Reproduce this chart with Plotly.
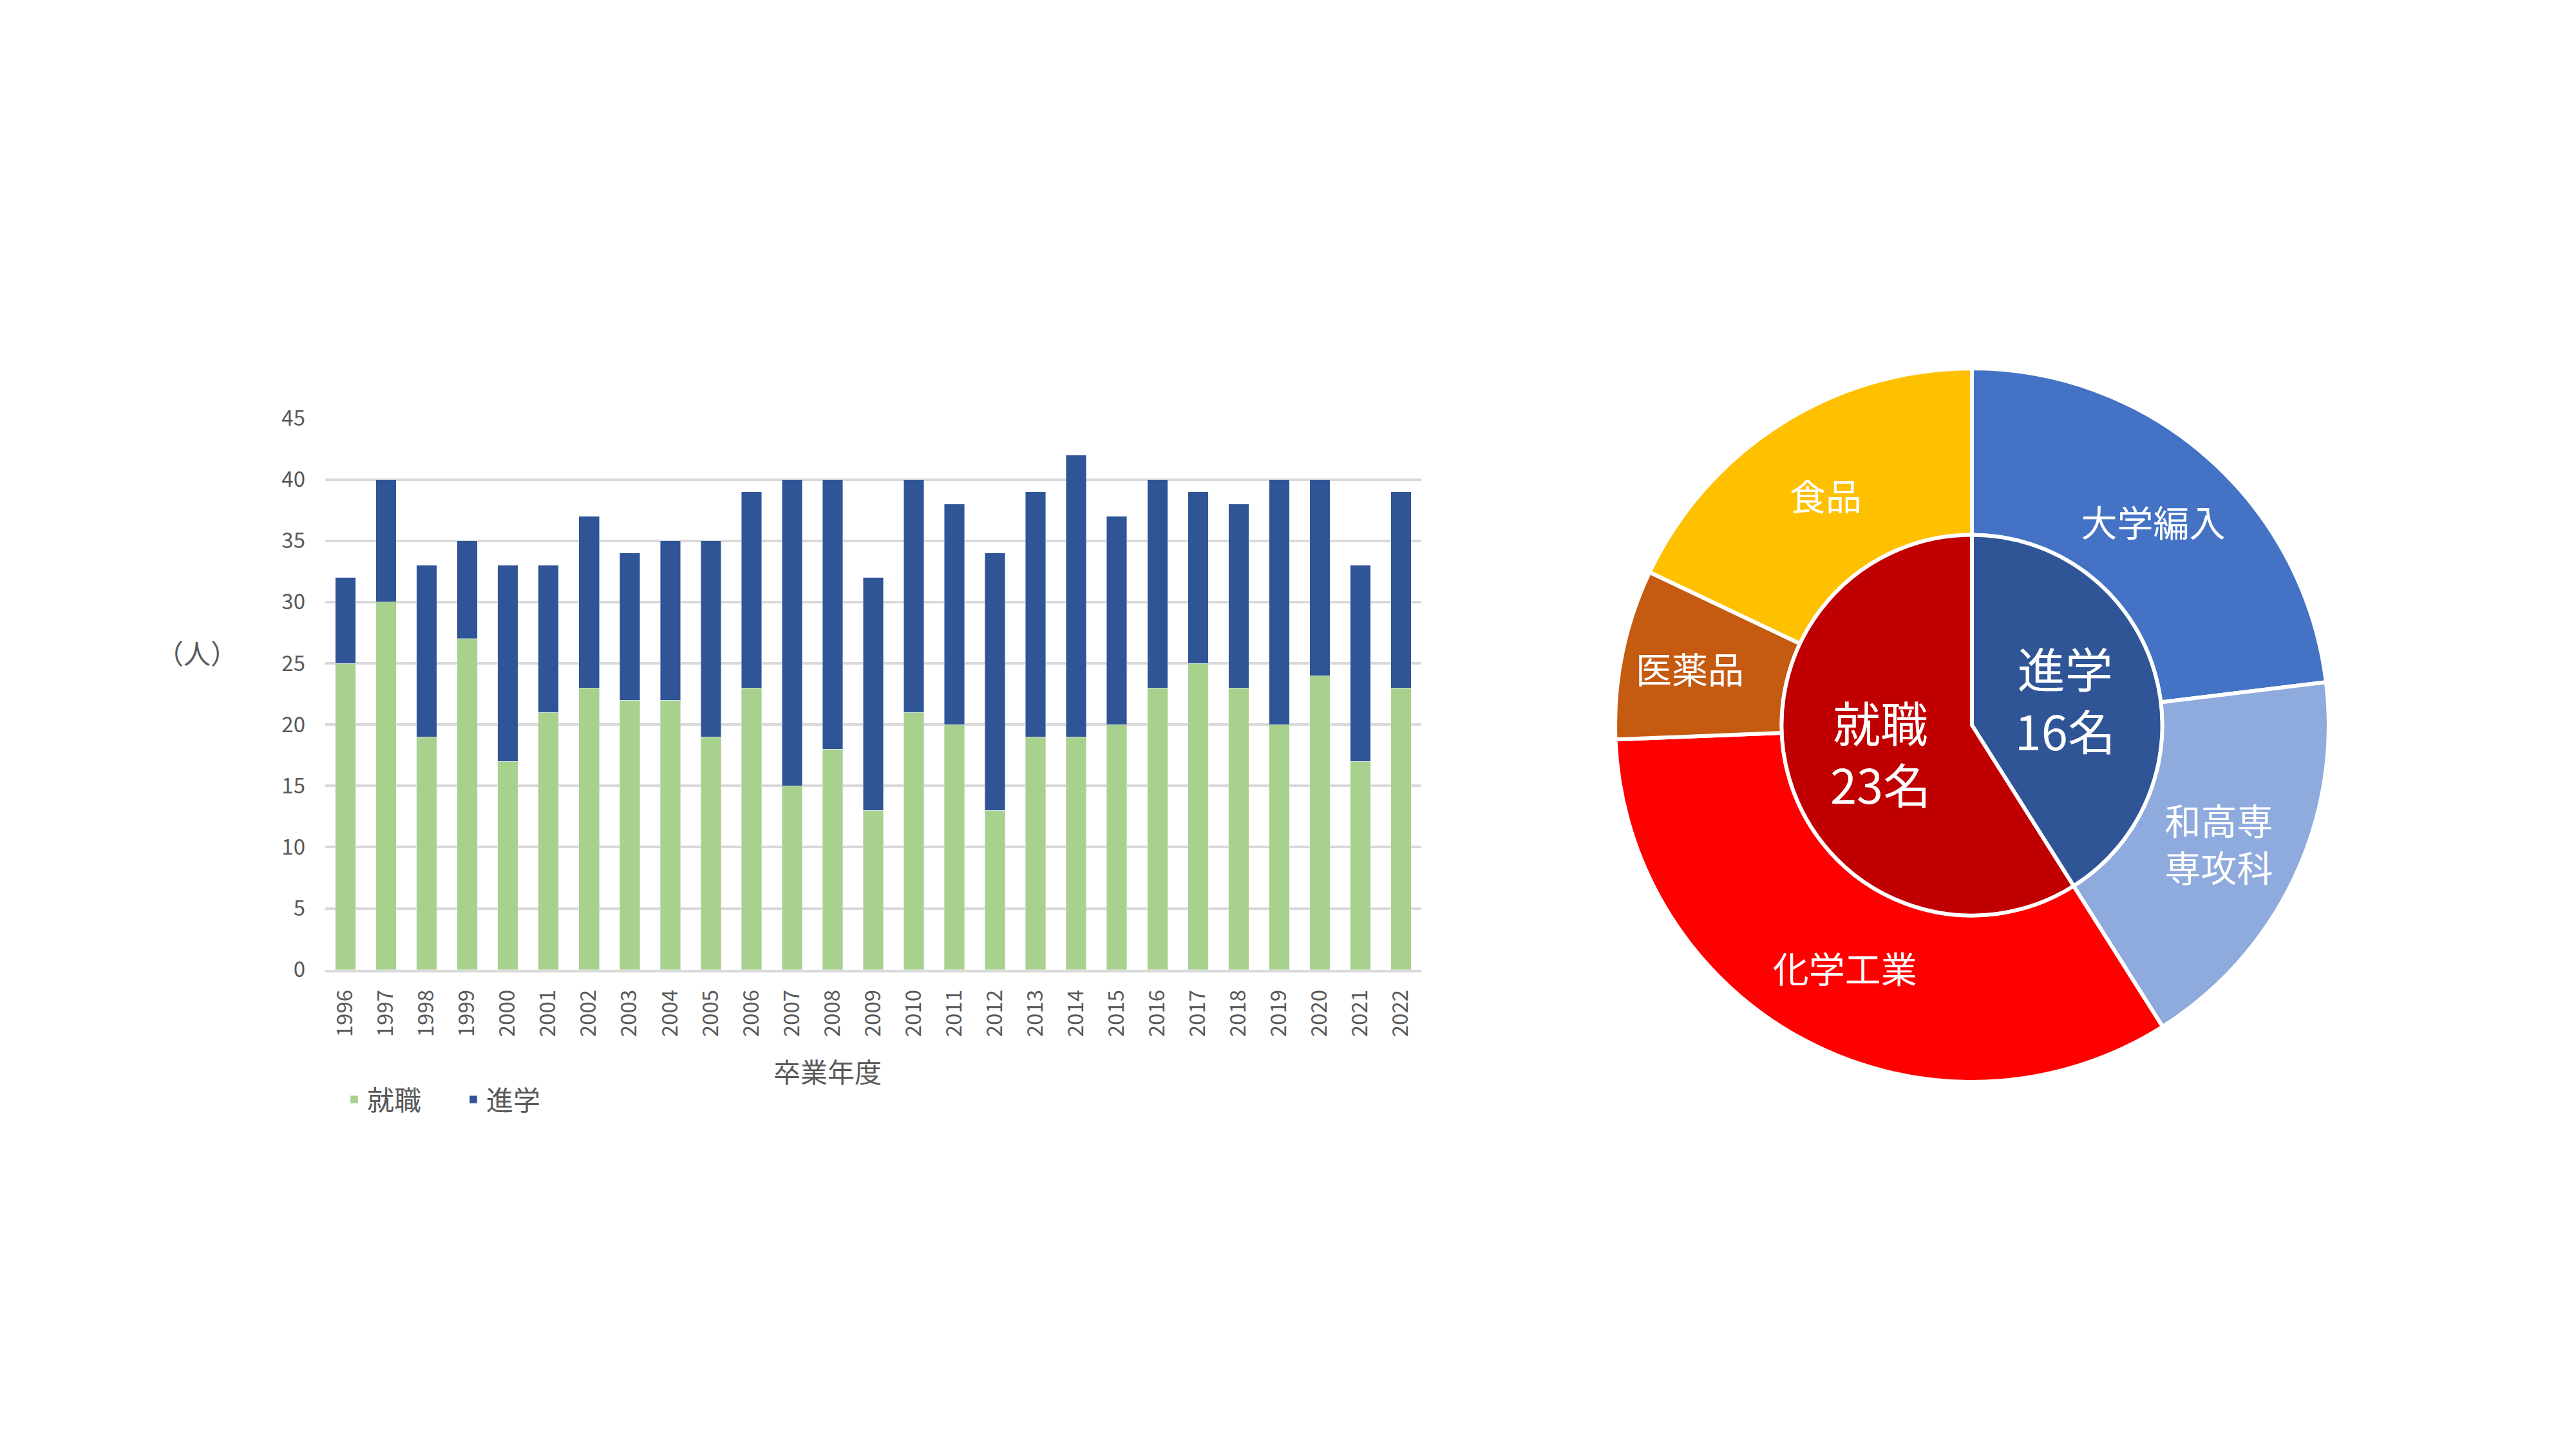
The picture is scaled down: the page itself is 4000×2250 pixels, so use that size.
import plotly.graph_objects as go

# 卒業年度ごとの進路（人）
years = [str(y) for y in range(1996, 2023)]
shushoku = [25, 30, 19, 27, 17, 21, 23, 22, 22, 19, 23, 15, 18, 13, 21, 20, 13, 19, 19, 20, 23, 25, 23, 20, 24, 17, 23]
shingaku = [7, 10, 14, 8, 16, 12, 14, 12, 13, 16, 16, 25, 22, 19, 19, 18, 21, 20, 23, 17, 17, 14, 15, 20, 16, 16, 16]

# 2022年度の内訳
inner_labels = ['進学', '就職']
inner_values = [16, 23]
outer_labels = ['大学編入', '和高専<br>専攻科', '化学工業', '医薬品', '食品']
outer_values = [9, 7, 13, 3, 7]

FONT = 'Noto Sans CJK JP'
GRAY = '#595959'
W, H = 4000, 2250
CX, CY = 3062, 1126  # 円グラフの中心（下からのpx）

fig = go.Figure()

fig.add_trace(go.Bar(x=years, y=shushoku, name='就職', marker_color='#A9D18E'))
fig.add_trace(go.Bar(x=years, y=shingaku, name='進学', marker_color='#2F5597'))

# 外側のリング
R_OUT, R_IN = 566, 302
fig.add_trace(go.Pie(
    labels=outer_labels, values=outer_values, text=outer_labels,
    textinfo='text', textposition='inside', insidetextorientation='horizontal',
    textfont=dict(family=FONT, size=56, color='white'),
    marker=dict(colors=['#4472C4', '#8FAADC', '#FF0000', '#C55A11', '#FFC000'],
                line=dict(color='white', width=6)),
    hole=0.533, sort=False, direction='clockwise', rotation=0,
    domain=dict(x=[(CX - R_OUT) / W, (CX + R_OUT) / W], y=[(CY - R_OUT) / H, (CY + R_OUT) / H]),
    showlegend=False,
))

# 内側の円
fig.add_trace(go.Pie(
    labels=inner_labels, values=inner_values,
    text=[f'{l}<br>{v}名' for l, v in zip(inner_labels, inner_values)],
    textinfo='text', textposition='inside', insidetextorientation='horizontal',
    textfont=dict(family=FONT, size=74, color='white'),
    marker=dict(colors=['#2F5597', '#C00000'], line=dict(color='white', width=6)),
    sort=False, direction='clockwise', rotation=0,
    domain=dict(x=[(CX - R_IN) / W, (CX + R_IN) / W], y=[(CY - R_IN) / H, (CY + R_IN) / H]),
    showlegend=False,
))

fig.update_layout(
    width=W, height=H,
    margin=dict(l=0, r=0, t=0, b=0),
    paper_bgcolor='white', plot_bgcolor='white',
    font=dict(family=FONT, color=GRAY, size=32),
    barmode='stack', bargap=0.5,
    xaxis=dict(domain=[505 / W, 2207 / W], tickangle=-90, showgrid=False,
               showline=True, linecolor='#D9D9D9', linewidth=4,
               tickfont=dict(size=33, color=GRAY), ticklabelstandoff=14),
    yaxis=dict(domain=[(H - 1512) / H, (H - 637) / H], range=[0, 45], dtick=5,
               gridcolor='#D9D9D9', gridwidth=4, zeroline=False,
               tickfont=dict(size=33, color=GRAY), ticklabelstandoff=30),
    legend=dict(orientation='h', x=530 / W, y=(H - 1718) / H, xanchor='left', yanchor='middle',
                font=dict(size=42, color=GRAY), entrywidth=140, entrywidthmode='pixels',
                traceorder='normal'),
    annotations=[
        dict(text='卒業年度', x=1285 / W, y=(H - 1672) / H, xref='paper', yref='paper',
             xanchor='center', yanchor='middle', showarrow=False, font=dict(size=42, color=GRAY)),
        dict(text='（人）', x=306 / W, y=(H - 1008) / H, xref='paper', yref='paper',
             xanchor='center', yanchor='middle', showarrow=False, font=dict(size=42, color=GRAY)),
    ],
)

fig.write_html('out.html', config={'displayModeBar': False},
               post_script="document.body.style.margin='0';")
